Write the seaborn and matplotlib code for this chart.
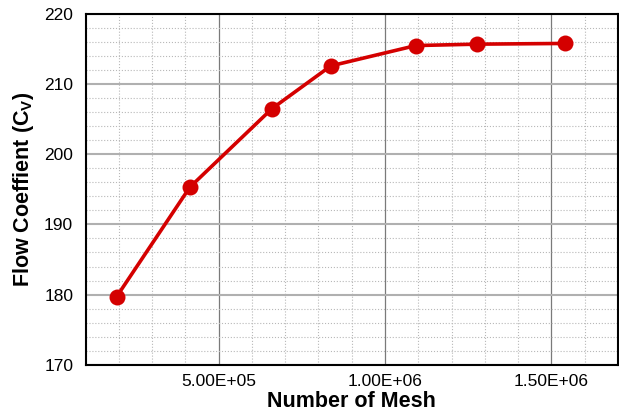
import matplotlib
matplotlib.use("Agg")
import matplotlib.pyplot as plt
import seaborn as sns
import pandas as pd
from matplotlib.ticker import MultipleLocator

# mesh study values
mesh_count = [1.93e5, 4.13e5, 6.60e5, 8.37e5, 1.093e6, 1.277e6, 1.541e6]
flow_coeff = [179.7, 195.3, 206.5, 212.6, 215.5, 215.7, 215.8]

df = pd.DataFrame({"mesh": mesh_count, "cv": flow_coeff})

sns.set_style("white")
plt.rcParams['font.family'] = ['Liberation Sans', 'DejaVu Sans']
plt.rcParams['mathtext.fontset'] = 'custom'
plt.rcParams['mathtext.rm'] = 'Liberation Sans'
plt.rcParams['mathtext.bf'] = 'Liberation Sans:bold'
plt.rcParams['text.color'] = 'black'
plt.rcParams['axes.labelcolor'] = 'black'

fig = plt.figure(figsize=(6.19, 4.15), dpi=100)
ax = fig.add_axes([0.1385, 0.1212, 0.8595, 0.8451])

sns.lineplot(data=df, x="mesh", y="cv", ax=ax, color='#d40000', linewidth=2.6,
             marker='o', markersize=11.5, markeredgewidth=0, zorder=5)

ax.set_xlim(1e5, 1.7e6)
ax.set_ylim(170, 220)

ax.xaxis.set_minor_locator(MultipleLocator(1e5))
ax.yaxis.set_major_locator(MultipleLocator(10))
ax.yaxis.set_minor_locator(MultipleLocator(2))

ax.set_xticks([5e5, 1e6, 1.5e6])
ax.set_xticklabels(['5.00E+05', '1.00E+06', '1.50E+06'])

# grids
ax.grid(which='minor', color='#b8b8b8', linestyle=':', linewidth=0.8)
ax.grid(which='major', axis='x', color='#7a7a7a', linestyle='-', linewidth=0.9)
ax.grid(which='major', axis='y', color='#b0b0b0', linestyle='-', linewidth=1.5)
ax.set_axisbelow(True)

ax.tick_params(which='both', direction='in', colors='#222222', labelcolor='black')
ax.tick_params(which='major', length=5, width=1, labelsize=12.5)
ax.tick_params(which='minor', length=3, width=0.8)
ax.tick_params(axis='y', which='major', pad=9)
ax.tick_params(axis='x', which='major', pad=7)

for s in ax.spines.values():
    s.set_color('black')
    s.set_linewidth(1.5)

ax.set_xlabel('Number of Mesh', fontsize=15.5, fontweight='bold', labelpad=1)
ax.set_ylabel(r'Flow Coeffient (C$_\mathbf{V}$)', fontsize=15.5, fontweight='bold', labelpad=6)

fig.savefig('out.png', dpi=100)
